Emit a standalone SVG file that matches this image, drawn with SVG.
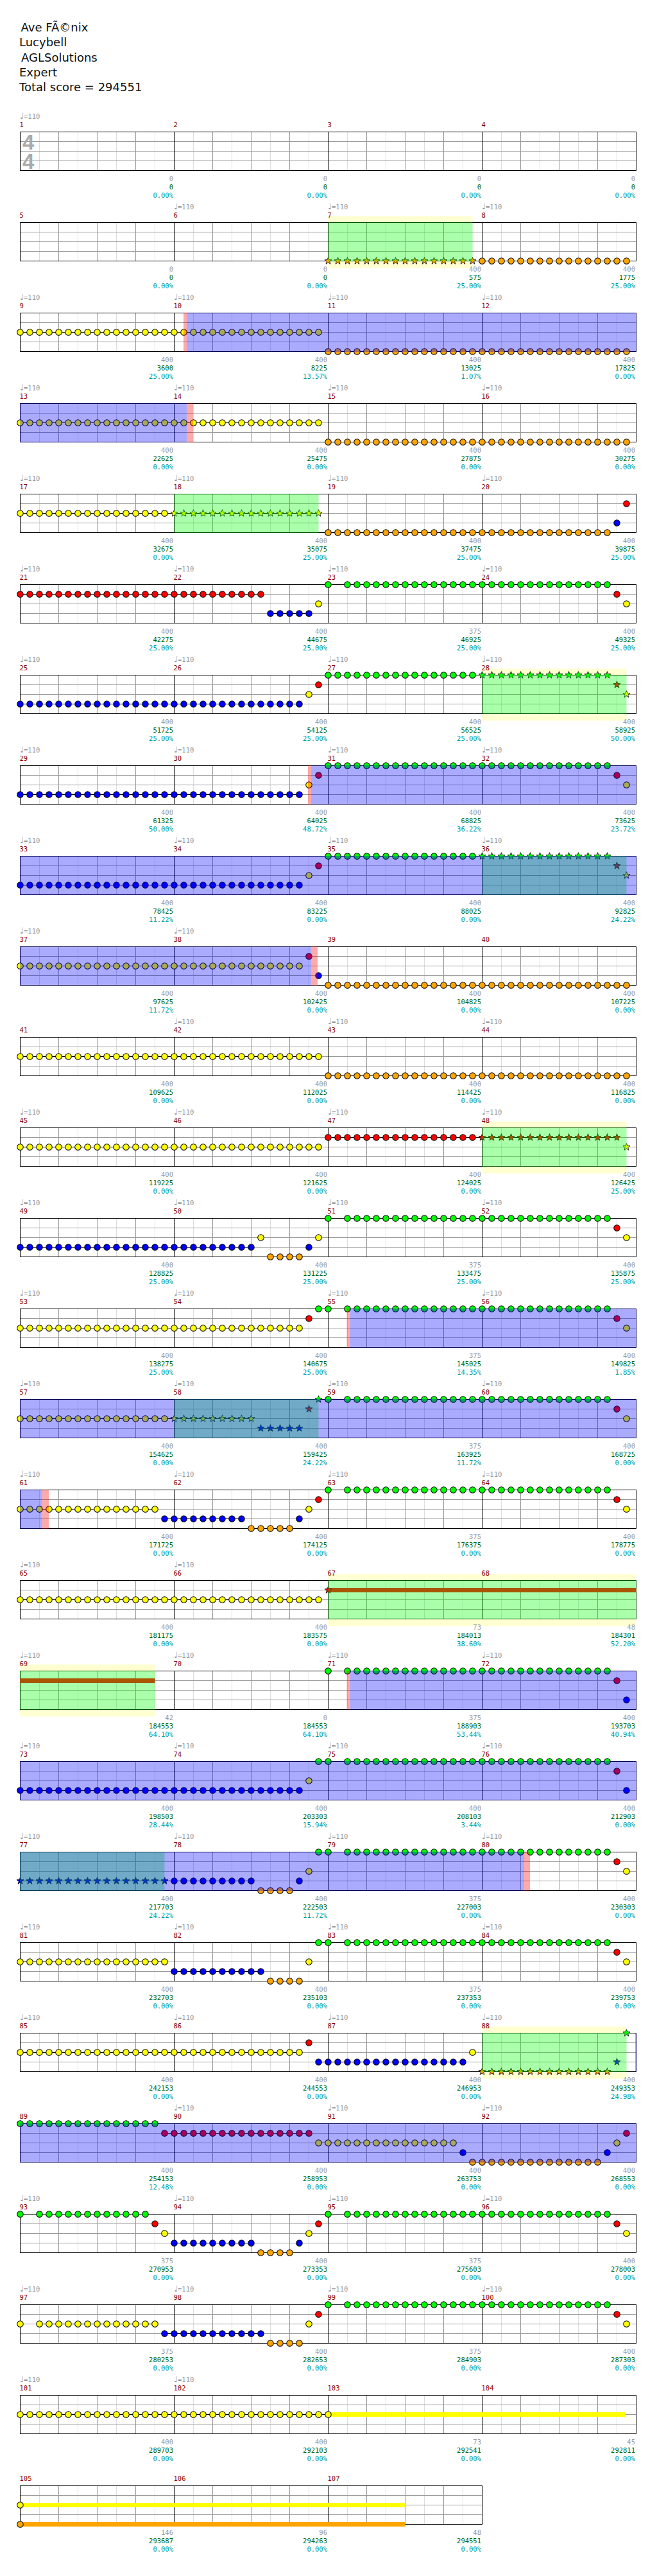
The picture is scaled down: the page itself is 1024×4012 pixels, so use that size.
<svg xmlns="http://www.w3.org/2000/svg" xmlns:xlink="http://www.w3.org/1999/xlink" width="1024" height="4012" viewBox="0 0 1024 4012">
<defs>
<style>
.lt{stroke:#ddd;fill:none}
.gr{stroke:#999;fill:none}
.bk{stroke:#000;fill:none}
.ln{stroke:#000;fill:none}
.d{fill:none;stroke-linecap:round;stroke-dasharray:0 15}
.k{stroke:#000;stroke-width:10.5}
.c{stroke-width:8.5}
.G{stroke:#00ff00}.R{stroke:#ff0000}.Y{stroke:#ffff00}.B{stroke:#0000ff}.O{stroke:#ffa500}
.s{stroke:#000;stroke-width:.8}
.sG{fill:#00ff00}.sR{fill:#ff0000}.sY{fill:#ffff00}.sB{fill:#0000ff}.sO{fill:#ffa500}
.og{fill:#00ff00;fill-opacity:.333}
.ob{fill:#0000ff;fill-opacity:.333}
.op{fill:#ff0000;fill-opacity:.333}
.yb{fill:#ffffd2}
.suR{fill:#ff0000}.suY{fill:#ffff00}.suO{fill:#ffa500}
.t{font-family:"DejaVu Sans Mono",monospace;font-size:10.5px}
.nt{font-family:"DejaVu Sans",sans-serif;font-size:13px}
.tp{fill:#999}
.mn{fill:#8b0000}
.q{fill:#999;text-anchor:end}
.sc{fill:#006400;text-anchor:end}
.pc{fill:#009999;text-anchor:end}
.h{font-family:"DejaVu Sans",sans-serif;font-size:18px;fill:#111}
.ts{font-family:"Liberation Sans",sans-serif;font-weight:bold;font-size:33px;fill:#aaa}
</style>
<path id="st" d="M0-5.8L1.41-1.94 5.52-1.79 2.28.74 3.41 4.69 0 2.4-3.41 4.69-2.28.74-5.52-1.79-1.41-1.94Z"/>
<g id="grid">
<rect x="31.5" y="205.5" width="960" height="60" fill="#fff"/>
<path class="lt" d="M61.5 205.5v60M121.5 205.5v60M181.5 205.5v60M241.5 205.5v60M301.5 205.5v60M361.5 205.5v60M421.5 205.5v60M481.5 205.5v60M541.5 205.5v60M601.5 205.5v60M661.5 205.5v60M721.5 205.5v60M781.5 205.5v60M841.5 205.5v60M901.5 205.5v60M961.5 205.5v60"/>
<path class="gr" d="M91.5 205.5v60M151.5 205.5v60M211.5 205.5v60M331.5 205.5v60M391.5 205.5v60M451.5 205.5v60M571.5 205.5v60M631.5 205.5v60M691.5 205.5v60M811.5 205.5v60M871.5 205.5v60M931.5 205.5v60M31.5 220.5H991.5M31.5 235.5H991.5M31.5 250.5H991.5"/>
<path class="bk" d="M271.5 205.5v60M511.5 205.5v60M751.5 205.5v60"/>
<rect class="bk" x="31.5" y="205.5" width="960" height="60"/>
</g>
<g id="grid3">
<rect x="31.5" y="205.5" width="720" height="60" fill="#fff"/>
<path class="lt" d="M61.5 205.5v60M121.5 205.5v60M181.5 205.5v60M241.5 205.5v60M301.5 205.5v60M361.5 205.5v60M421.5 205.5v60M481.5 205.5v60M541.5 205.5v60M601.5 205.5v60M661.5 205.5v60M721.5 205.5v60"/>
<path class="gr" d="M91.5 205.5v60M151.5 205.5v60M211.5 205.5v60M331.5 205.5v60M391.5 205.5v60M451.5 205.5v60M571.5 205.5v60M631.5 205.5v60M691.5 205.5v60M31.5 220.5H751.5M31.5 235.5H751.5M31.5 250.5H751.5"/>
<path class="bk" d="M271.5 205.5v60M511.5 205.5v60"/>
<rect class="bk" x="31.5" y="205.5" width="720" height="60"/>
</g>
</defs>
<rect width="1024" height="4012" fill="#fff"/>
<g id="title">
<text class="h" x="32.5" y="48.5">Ave FÃ©nix</text>
<text class="h" x="30" y="72">Lucybell</text>
<text class="h" x="33" y="95.5">AGLSolutions</text>
<text class="h" x="30" y="118.5">Expert</text>
<text class="h" x="30" y="141.5">Total score = 294551</text>
</g>

<g id="row1">
<use href="#grid"/>
<text class="ts" x="35" y="232.5">4</text>
<text class="ts" x="35" y="262.5">4</text>
<text class="t tp" y="185"><tspan class="nt" x="31">♩</tspan><tspan x="37">=110</tspan></text>
<text class="t mn" y="198"><tspan x="30.5">1</tspan><tspan x="270.5">2</tspan><tspan x="510.5">3</tspan><tspan x="750.5">4</tspan></text>
<text class="t q" y="282"><tspan x="270">0</tspan><tspan x="510">0</tspan><tspan x="750">0</tspan><tspan x="990">0</tspan></text>
<text class="t sc" y="295"><tspan x="270">0</tspan><tspan x="510">0</tspan><tspan x="750">0</tspan><tspan x="990">0</tspan></text>
<text class="t pc" y="308"><tspan x="270">0.00%</tspan><tspan x="510">0.00%</tspan><tspan x="750">0.00%</tspan><tspan x="990">0.00%</tspan></text>
</g>

<g id="row2" transform="translate(0,141)">
<rect class="yb" x="511.5" y="195.5" width="225" height="81"/>
<use href="#grid"/>
<path class="d k" d="M751.5 265.5h225.5"/>
<path class="d c O" d="M751.5 265.5h225.5"/>
<g class="s sO"><use href="#st" x="511.5" y="265.5"/><use href="#st" x="526.5" y="265.5"/><use href="#st" x="541.5" y="265.5"/><use href="#st" x="556.5" y="265.5"/><use href="#st" x="571.5" y="265.5"/><use href="#st" x="586.5" y="265.5"/><use href="#st" x="601.5" y="265.5"/><use href="#st" x="616.5" y="265.5"/><use href="#st" x="631.5" y="265.5"/><use href="#st" x="646.5" y="265.5"/><use href="#st" x="661.5" y="265.5"/><use href="#st" x="676.5" y="265.5"/><use href="#st" x="691.5" y="265.5"/><use href="#st" x="706.5" y="265.5"/><use href="#st" x="721.5" y="265.5"/><use href="#st" x="736.5" y="265.5"/></g>
<rect class="og" x="511.5" y="205" width="225" height="61"/>
<text class="t tp" y="185"><tspan class="nt" x="271">♩</tspan><tspan x="277">=110</tspan><tspan class="nt" x="511">♩</tspan><tspan x="517">=110</tspan><tspan class="nt" x="751">♩</tspan><tspan x="757">=110</tspan></text>
<text class="t mn" y="198"><tspan x="30.5">5</tspan><tspan x="270.5">6</tspan><tspan x="510.5">7</tspan><tspan x="750.5">8</tspan></text>
<text class="t q" y="282"><tspan x="270">0</tspan><tspan x="510">0</tspan><tspan x="750">400</tspan><tspan x="990">400</tspan></text>
<text class="t sc" y="295"><tspan x="270">0</tspan><tspan x="510">0</tspan><tspan x="750">575</tspan><tspan x="990">1775</tspan></text>
<text class="t pc" y="308"><tspan x="270">0.00%</tspan><tspan x="510">0.00%</tspan><tspan x="750">25.00%</tspan><tspan x="990">25.00%</tspan></text>
</g>

<g id="row3" transform="translate(0,282)">
<use href="#grid"/>
<path class="ln" d="M31.5 235.5h465"/>
<path class="d k" d="M31.5 235.5h465.5M511.5 265.5h465.5"/>
<path class="d c Y" d="M31.5 235.5h465.5"/>
<path class="d c O" d="M511.5 265.5h465.5"/>
<rect class="op" x="286" y="205" width="5" height="61"/>
<rect class="ob" x="291" y="205" width="701" height="61"/>
<text class="t tp" y="185"><tspan class="nt" x="31">♩</tspan><tspan x="37">=110</tspan><tspan class="nt" x="271">♩</tspan><tspan x="277">=110</tspan><tspan class="nt" x="511">♩</tspan><tspan x="517">=110</tspan><tspan class="nt" x="751">♩</tspan><tspan x="757">=110</tspan></text>
<text class="t mn" y="198"><tspan x="30.5">9</tspan><tspan x="270.5">10</tspan><tspan x="510.5">11</tspan><tspan x="750.5">12</tspan></text>
<text class="t q" y="282"><tspan x="270">400</tspan><tspan x="510">400</tspan><tspan x="750">400</tspan><tspan x="990">400</tspan></text>
<text class="t sc" y="295"><tspan x="270">3600</tspan><tspan x="510">8225</tspan><tspan x="750">13025</tspan><tspan x="990">17825</tspan></text>
<text class="t pc" y="308"><tspan x="270">25.00%</tspan><tspan x="510">13.57%</tspan><tspan x="750">1.07%</tspan><tspan x="990">0.00%</tspan></text>
</g>

<g id="row4" transform="translate(0,423)">
<use href="#grid"/>
<path class="ln" d="M31.5 235.5h465"/>
<path class="d k" d="M31.5 235.5h465.5M511.5 265.5h465.5"/>
<path class="d c Y" d="M31.5 235.5h465.5"/>
<path class="d c O" d="M511.5 265.5h465.5"/>
<rect class="ob" x="31" y="205" width="260" height="61"/>
<rect class="op" x="291" y="205" width="10" height="61"/>
<text class="t tp" y="185"><tspan class="nt" x="31">♩</tspan><tspan x="37">=110</tspan><tspan class="nt" x="271">♩</tspan><tspan x="277">=110</tspan><tspan class="nt" x="511">♩</tspan><tspan x="517">=110</tspan><tspan class="nt" x="751">♩</tspan><tspan x="757">=110</tspan></text>
<text class="t mn" y="198"><tspan x="30.5">13</tspan><tspan x="270.5">14</tspan><tspan x="510.5">15</tspan><tspan x="750.5">16</tspan></text>
<text class="t q" y="282"><tspan x="270">400</tspan><tspan x="510">400</tspan><tspan x="750">400</tspan><tspan x="990">400</tspan></text>
<text class="t sc" y="295"><tspan x="270">22625</tspan><tspan x="510">25475</tspan><tspan x="750">27875</tspan><tspan x="990">30275</tspan></text>
<text class="t pc" y="308"><tspan x="270">0.00%</tspan><tspan x="510">0.00%</tspan><tspan x="750">0.00%</tspan><tspan x="990">0.00%</tspan></text>
</g>

<g id="row5" transform="translate(0,564)">
<use href="#grid"/>
<path class="ln" d="M31.5 235.5h465"/>
<path class="d k" d="M31.5 235.5h225.5M511.5 265.5h435.5M961.5 250.5h.5M976.5 220.5h.5"/>
<path class="d c Y" d="M31.5 235.5h225.5"/>
<path class="d c O" d="M511.5 265.5h435.5"/>
<path class="d c B" d="M961.5 250.5h.5"/>
<path class="d c R" d="M976.5 220.5h.5"/>
<g class="s sY"><use href="#st" x="271.5" y="235.5"/><use href="#st" x="286.5" y="235.5"/><use href="#st" x="301.5" y="235.5"/><use href="#st" x="316.5" y="235.5"/><use href="#st" x="331.5" y="235.5"/><use href="#st" x="346.5" y="235.5"/><use href="#st" x="361.5" y="235.5"/><use href="#st" x="376.5" y="235.5"/><use href="#st" x="391.5" y="235.5"/><use href="#st" x="406.5" y="235.5"/><use href="#st" x="421.5" y="235.5"/><use href="#st" x="436.5" y="235.5"/><use href="#st" x="451.5" y="235.5"/><use href="#st" x="466.5" y="235.5"/><use href="#st" x="481.5" y="235.5"/><use href="#st" x="496.5" y="235.5"/></g>
<rect class="og" x="271.5" y="205" width="225" height="61"/>
<text class="t tp" y="185"><tspan class="nt" x="31">♩</tspan><tspan x="37">=110</tspan><tspan class="nt" x="271">♩</tspan><tspan x="277">=110</tspan><tspan class="nt" x="511">♩</tspan><tspan x="517">=110</tspan><tspan class="nt" x="751">♩</tspan><tspan x="757">=110</tspan></text>
<text class="t mn" y="198"><tspan x="30.5">17</tspan><tspan x="270.5">18</tspan><tspan x="510.5">19</tspan><tspan x="750.5">20</tspan></text>
<text class="t q" y="282"><tspan x="270">400</tspan><tspan x="510">400</tspan><tspan x="750">400</tspan><tspan x="990">400</tspan></text>
<text class="t sc" y="295"><tspan x="270">32675</tspan><tspan x="510">35075</tspan><tspan x="750">37475</tspan><tspan x="990">39875</tspan></text>
<text class="t pc" y="308"><tspan x="270">0.00%</tspan><tspan x="510">25.00%</tspan><tspan x="750">25.00%</tspan><tspan x="990">25.00%</tspan></text>
</g>

<g id="row6" transform="translate(0,705)">
<use href="#grid"/>
<path class="ln" d="M31.5 220.5h375M421.5 250.5h60"/>
<path class="d k" d="M31.5 220.5h375.5M961.5 220.5h.5M421.5 250.5h60.5M496.5 235.5h.5M976.5 235.5h.5M511.5 205.5h.5M541.5 205.5h405.5"/>
<path class="d c R" d="M31.5 220.5h375.5M961.5 220.5h.5"/>
<path class="d c B" d="M421.5 250.5h60.5"/>
<path class="d c Y" d="M496.5 235.5h.5M976.5 235.5h.5"/>
<path class="d c G" d="M511.5 205.5h.5M541.5 205.5h405.5"/>
<text class="t tp" y="185"><tspan class="nt" x="31">♩</tspan><tspan x="37">=110</tspan><tspan class="nt" x="271">♩</tspan><tspan x="277">=110</tspan><tspan class="nt" x="511">♩</tspan><tspan x="517">=110</tspan><tspan class="nt" x="751">♩</tspan><tspan x="757">=110</tspan></text>
<text class="t mn" y="198"><tspan x="30.5">21</tspan><tspan x="270.5">22</tspan><tspan x="510.5">23</tspan><tspan x="750.5">24</tspan></text>
<text class="t q" y="282"><tspan x="270">400</tspan><tspan x="510">400</tspan><tspan x="750">375</tspan><tspan x="990">400</tspan></text>
<text class="t sc" y="295"><tspan x="270">42275</tspan><tspan x="510">44675</tspan><tspan x="750">46925</tspan><tspan x="990">49325</tspan></text>
<text class="t pc" y="308"><tspan x="270">25.00%</tspan><tspan x="510">25.00%</tspan><tspan x="750">25.00%</tspan><tspan x="990">25.00%</tspan></text>
</g>

<g id="row7" transform="translate(0,846)">
<rect class="yb" x="751.5" y="195.5" width="225" height="81"/>
<use href="#grid"/>
<path class="ln" d="M31.5 250.5h435"/>
<path class="d k" d="M31.5 250.5h435.5M481.5 235.5h.5M496.5 220.5h.5M511.5 205.5h225.5"/>
<path class="d c B" d="M31.5 250.5h435.5"/>
<path class="d c Y" d="M481.5 235.5h.5"/>
<path class="d c R" d="M496.5 220.5h.5"/>
<path class="d c G" d="M511.5 205.5h225.5"/>
<g class="s sG"><use href="#st" x="751.5" y="205.5"/><use href="#st" x="766.5" y="205.5"/><use href="#st" x="781.5" y="205.5"/><use href="#st" x="796.5" y="205.5"/><use href="#st" x="811.5" y="205.5"/><use href="#st" x="826.5" y="205.5"/><use href="#st" x="841.5" y="205.5"/><use href="#st" x="856.5" y="205.5"/><use href="#st" x="871.5" y="205.5"/><use href="#st" x="886.5" y="205.5"/><use href="#st" x="901.5" y="205.5"/><use href="#st" x="916.5" y="205.5"/><use href="#st" x="931.5" y="205.5"/><use href="#st" x="946.5" y="205.5"/></g>
<use href="#st" class="s sR" x="961.5" y="220.5"/>
<use href="#st" class="s sY" x="976.5" y="235.5"/>
<rect class="og" x="751.5" y="205" width="225" height="61"/>
<text class="t tp" y="185"><tspan class="nt" x="31">♩</tspan><tspan x="37">=110</tspan><tspan class="nt" x="271">♩</tspan><tspan x="277">=110</tspan><tspan class="nt" x="511">♩</tspan><tspan x="517">=110</tspan><tspan class="nt" x="751">♩</tspan><tspan x="757">=110</tspan></text>
<text class="t mn" y="198"><tspan x="30.5">25</tspan><tspan x="270.5">26</tspan><tspan x="510.5">27</tspan><tspan x="750.5">28</tspan></text>
<text class="t q" y="282"><tspan x="270">400</tspan><tspan x="510">400</tspan><tspan x="750">400</tspan><tspan x="990">400</tspan></text>
<text class="t sc" y="295"><tspan x="270">51725</tspan><tspan x="510">54125</tspan><tspan x="750">56525</tspan><tspan x="990">58925</tspan></text>
<text class="t pc" y="308"><tspan x="270">25.00%</tspan><tspan x="510">25.00%</tspan><tspan x="750">25.00%</tspan><tspan x="990">50.00%</tspan></text>
</g>

<g id="row8" transform="translate(0,987)">
<use href="#grid"/>
<path class="ln" d="M31.5 250.5h435"/>
<path class="d k" d="M31.5 250.5h435.5M481.5 235.5h.5M976.5 235.5h.5M496.5 220.5h.5M961.5 220.5h.5M511.5 205.5h435.5"/>
<path class="d c B" d="M31.5 250.5h435.5"/>
<path class="d c Y" d="M481.5 235.5h.5M976.5 235.5h.5"/>
<path class="d c R" d="M496.5 220.5h.5M961.5 220.5h.5"/>
<path class="d c G" d="M511.5 205.5h435.5"/>
<rect class="op" x="480" y="205" width="5" height="61"/>
<rect class="ob" x="485" y="205" width="507" height="61"/>
<text class="t tp" y="185"><tspan class="nt" x="31">♩</tspan><tspan x="37">=110</tspan><tspan class="nt" x="271">♩</tspan><tspan x="277">=110</tspan><tspan class="nt" x="511">♩</tspan><tspan x="517">=110</tspan><tspan class="nt" x="751">♩</tspan><tspan x="757">=110</tspan></text>
<text class="t mn" y="198"><tspan x="30.5">29</tspan><tspan x="270.5">30</tspan><tspan x="510.5">31</tspan><tspan x="750.5">32</tspan></text>
<text class="t q" y="282"><tspan x="270">400</tspan><tspan x="510">400</tspan><tspan x="750">400</tspan><tspan x="990">400</tspan></text>
<text class="t sc" y="295"><tspan x="270">61325</tspan><tspan x="510">64025</tspan><tspan x="750">68825</tspan><tspan x="990">73625</tspan></text>
<text class="t pc" y="308"><tspan x="270">50.00%</tspan><tspan x="510">48.72%</tspan><tspan x="750">36.22%</tspan><tspan x="990">23.72%</tspan></text>
</g>

<g id="row9" transform="translate(0,1128)">
<use href="#grid"/>
<path class="ln" d="M31.5 250.5h435"/>
<path class="d k" d="M31.5 250.5h435.5M481.5 235.5h.5M496.5 220.5h.5M511.5 205.5h225.5"/>
<path class="d c B" d="M31.5 250.5h435.5"/>
<path class="d c Y" d="M481.5 235.5h.5"/>
<path class="d c R" d="M496.5 220.5h.5"/>
<path class="d c G" d="M511.5 205.5h225.5"/>
<g class="s sG"><use href="#st" x="751.5" y="205.5"/><use href="#st" x="766.5" y="205.5"/><use href="#st" x="781.5" y="205.5"/><use href="#st" x="796.5" y="205.5"/><use href="#st" x="811.5" y="205.5"/><use href="#st" x="826.5" y="205.5"/><use href="#st" x="841.5" y="205.5"/><use href="#st" x="856.5" y="205.5"/><use href="#st" x="871.5" y="205.5"/><use href="#st" x="886.5" y="205.5"/><use href="#st" x="901.5" y="205.5"/><use href="#st" x="916.5" y="205.5"/><use href="#st" x="931.5" y="205.5"/><use href="#st" x="946.5" y="205.5"/></g>
<use href="#st" class="s sR" x="961.5" y="220.5"/>
<use href="#st" class="s sY" x="976.5" y="235.5"/>
<rect class="og" x="751.5" y="205" width="225" height="61"/>
<rect class="ob" x="31" y="205" width="961" height="61"/>
<text class="t tp" y="185"><tspan class="nt" x="31">♩</tspan><tspan x="37">=110</tspan><tspan class="nt" x="271">♩</tspan><tspan x="277">=110</tspan><tspan class="nt" x="511">♩</tspan><tspan x="517">=110</tspan><tspan class="nt" x="751">♩</tspan><tspan x="757">=110</tspan></text>
<text class="t mn" y="198"><tspan x="30.5">33</tspan><tspan x="270.5">34</tspan><tspan x="510.5">35</tspan><tspan x="750.5">36</tspan></text>
<text class="t q" y="282"><tspan x="270">400</tspan><tspan x="510">400</tspan><tspan x="750">400</tspan><tspan x="990">400</tspan></text>
<text class="t sc" y="295"><tspan x="270">78425</tspan><tspan x="510">83225</tspan><tspan x="750">88025</tspan><tspan x="990">92825</tspan></text>
<text class="t pc" y="308"><tspan x="270">11.22%</tspan><tspan x="510">0.00%</tspan><tspan x="750">0.00%</tspan><tspan x="990">24.22%</tspan></text>
</g>

<g id="row10" transform="translate(0,1269)">
<use href="#grid"/>
<path class="ln" d="M31.5 235.5h435"/>
<path class="d k" d="M31.5 235.5h435.5M481.5 220.5h.5M496.5 250.5h.5M511.5 265.5h465.5"/>
<path class="d c Y" d="M31.5 235.5h435.5"/>
<path class="d c R" d="M481.5 220.5h.5"/>
<path class="d c B" d="M496.5 250.5h.5"/>
<path class="d c O" d="M511.5 265.5h465.5"/>
<rect class="ob" x="31" y="205" width="454" height="61"/>
<rect class="op" x="485" y="205" width="10" height="61"/>
<text class="t tp" y="185"><tspan class="nt" x="31">♩</tspan><tspan x="37">=110</tspan><tspan class="nt" x="271">♩</tspan><tspan x="277">=110</tspan></text>
<text class="t mn" y="198"><tspan x="30.5">37</tspan><tspan x="270.5">38</tspan><tspan x="510.5">39</tspan><tspan x="750.5">40</tspan></text>
<text class="t q" y="282"><tspan x="270">400</tspan><tspan x="510">400</tspan><tspan x="750">400</tspan><tspan x="990">400</tspan></text>
<text class="t sc" y="295"><tspan x="270">97625</tspan><tspan x="510">102425</tspan><tspan x="750">104825</tspan><tspan x="990">107225</tspan></text>
<text class="t pc" y="308"><tspan x="270">11.72%</tspan><tspan x="510">0.00%</tspan><tspan x="750">0.00%</tspan><tspan x="990">0.00%</tspan></text>
</g>

<g id="row11" transform="translate(0,1410)">
<use href="#grid"/>
<path class="ln" d="M31.5 235.5h465"/>
<path class="d k" d="M31.5 235.5h465.5M511.5 265.5h465.5"/>
<path class="d c Y" d="M31.5 235.5h465.5"/>
<path class="d c O" d="M511.5 265.5h465.5"/>
<text class="t tp" y="185"><tspan class="nt" x="271">♩</tspan><tspan x="277">=110</tspan><tspan class="nt" x="511">♩</tspan><tspan x="517">=110</tspan><tspan class="nt" x="751">♩</tspan><tspan x="757">=110</tspan></text>
<text class="t mn" y="198"><tspan x="30.5">41</tspan><tspan x="270.5">42</tspan><tspan x="510.5">43</tspan><tspan x="750.5">44</tspan></text>
<text class="t q" y="282"><tspan x="270">400</tspan><tspan x="510">400</tspan><tspan x="750">400</tspan><tspan x="990">400</tspan></text>
<text class="t sc" y="295"><tspan x="270">109625</tspan><tspan x="510">112025</tspan><tspan x="750">114425</tspan><tspan x="990">116825</tspan></text>
<text class="t pc" y="308"><tspan x="270">0.00%</tspan><tspan x="510">0.00%</tspan><tspan x="750">0.00%</tspan><tspan x="990">0.00%</tspan></text>
</g>

<g id="row12" transform="translate(0,1551)">
<rect class="yb" x="751.5" y="195.5" width="225" height="81"/>
<use href="#grid"/>
<path class="ln" d="M31.5 235.5h465M511.5 220.5h450"/>
<path class="d k" d="M31.5 235.5h465.5M511.5 220.5h225.5"/>
<path class="d c Y" d="M31.5 235.5h465.5"/>
<path class="d c R" d="M511.5 220.5h225.5"/>
<g class="s sR"><use href="#st" x="751.5" y="220.5"/><use href="#st" x="766.5" y="220.5"/><use href="#st" x="781.5" y="220.5"/><use href="#st" x="796.5" y="220.5"/><use href="#st" x="811.5" y="220.5"/><use href="#st" x="826.5" y="220.5"/><use href="#st" x="841.5" y="220.5"/><use href="#st" x="856.5" y="220.5"/><use href="#st" x="871.5" y="220.5"/><use href="#st" x="886.5" y="220.5"/><use href="#st" x="901.5" y="220.5"/><use href="#st" x="916.5" y="220.5"/><use href="#st" x="931.5" y="220.5"/><use href="#st" x="946.5" y="220.5"/><use href="#st" x="961.5" y="220.5"/></g>
<use href="#st" class="s sY" x="976.5" y="235.5"/>
<rect class="og" x="751.5" y="205" width="225" height="61"/>
<text class="t tp" y="185"><tspan class="nt" x="31">♩</tspan><tspan x="37">=110</tspan><tspan class="nt" x="271">♩</tspan><tspan x="277">=110</tspan><tspan class="nt" x="511">♩</tspan><tspan x="517">=110</tspan><tspan class="nt" x="751">♩</tspan><tspan x="757">=110</tspan></text>
<text class="t mn" y="198"><tspan x="30.5">45</tspan><tspan x="270.5">46</tspan><tspan x="510.5">47</tspan><tspan x="750.5">48</tspan></text>
<text class="t q" y="282"><tspan x="270">400</tspan><tspan x="510">400</tspan><tspan x="750">400</tspan><tspan x="990">400</tspan></text>
<text class="t sc" y="295"><tspan x="270">119225</tspan><tspan x="510">121625</tspan><tspan x="750">124025</tspan><tspan x="990">126425</tspan></text>
<text class="t pc" y="308"><tspan x="270">0.00%</tspan><tspan x="510">0.00%</tspan><tspan x="750">0.00%</tspan><tspan x="990">25.00%</tspan></text>
</g>

<g id="row13" transform="translate(0,1692)">
<use href="#grid"/>
<path class="ln" d="M31.5 250.5h360"/>
<path class="d k" d="M31.5 250.5h360.5M481.5 250.5h.5M406.5 235.5h.5M496.5 235.5h.5M976.5 235.5h.5M421.5 265.5h45.5M511.5 205.5h.5M541.5 205.5h405.5M961.5 220.5h.5"/>
<path class="d c B" d="M31.5 250.5h360.5M481.5 250.5h.5"/>
<path class="d c Y" d="M406.5 235.5h.5M496.5 235.5h.5M976.5 235.5h.5"/>
<path class="d c O" d="M421.5 265.5h45.5"/>
<path class="d c G" d="M511.5 205.5h.5M541.5 205.5h405.5"/>
<path class="d c R" d="M961.5 220.5h.5"/>
<text class="t tp" y="185"><tspan class="nt" x="31">♩</tspan><tspan x="37">=110</tspan><tspan class="nt" x="271">♩</tspan><tspan x="277">=110</tspan><tspan class="nt" x="511">♩</tspan><tspan x="517">=110</tspan><tspan class="nt" x="751">♩</tspan><tspan x="757">=110</tspan></text>
<text class="t mn" y="198"><tspan x="30.5">49</tspan><tspan x="270.5">50</tspan><tspan x="510.5">51</tspan><tspan x="750.5">52</tspan></text>
<text class="t q" y="282"><tspan x="270">400</tspan><tspan x="510">400</tspan><tspan x="750">375</tspan><tspan x="990">400</tspan></text>
<text class="t sc" y="295"><tspan x="270">128825</tspan><tspan x="510">131225</tspan><tspan x="750">133475</tspan><tspan x="990">135875</tspan></text>
<text class="t pc" y="308"><tspan x="270">25.00%</tspan><tspan x="510">25.00%</tspan><tspan x="750">25.00%</tspan><tspan x="990">25.00%</tspan></text>
</g>

<g id="row14" transform="translate(0,1833)">
<use href="#grid"/>
<path class="ln" d="M31.5 235.5h435"/>
<path class="d k" d="M31.5 235.5h435.5M976.5 235.5h.5M481.5 220.5h.5M961.5 220.5h.5M496.5 205.5h15.5M541.5 205.5h405.5"/>
<path class="d c Y" d="M31.5 235.5h435.5M976.5 235.5h.5"/>
<path class="d c R" d="M481.5 220.5h.5M961.5 220.5h.5"/>
<path class="d c G" d="M496.5 205.5h15.5M541.5 205.5h405.5"/>
<rect class="op" x="540.5" y="205" width="5" height="61"/>
<rect class="ob" x="545.5" y="205" width="446.5" height="61"/>
<text class="t tp" y="185"><tspan class="nt" x="31">♩</tspan><tspan x="37">=110</tspan><tspan class="nt" x="271">♩</tspan><tspan x="277">=110</tspan><tspan class="nt" x="511">♩</tspan><tspan x="517">=110</tspan><tspan class="nt" x="751">♩</tspan><tspan x="757">=110</tspan></text>
<text class="t mn" y="198"><tspan x="30.5">53</tspan><tspan x="270.5">54</tspan><tspan x="510.5">55</tspan><tspan x="750.5">56</tspan></text>
<text class="t q" y="282"><tspan x="270">400</tspan><tspan x="510">400</tspan><tspan x="750">375</tspan><tspan x="990">400</tspan></text>
<text class="t sc" y="295"><tspan x="270">138275</tspan><tspan x="510">140675</tspan><tspan x="750">145025</tspan><tspan x="990">149825</tspan></text>
<text class="t pc" y="308"><tspan x="270">25.00%</tspan><tspan x="510">25.00%</tspan><tspan x="750">14.35%</tspan><tspan x="990">1.85%</tspan></text>
</g>

<g id="row15" transform="translate(0,1974)">
<use href="#grid"/>
<path class="ln" d="M31.5 235.5h360M406.5 250.5h60"/>
<path class="d k" d="M31.5 235.5h225.5M976.5 235.5h.5M511.5 205.5h.5M541.5 205.5h405.5M961.5 220.5h.5"/>
<path class="d c Y" d="M31.5 235.5h225.5M976.5 235.5h.5"/>
<path class="d c G" d="M511.5 205.5h.5M541.5 205.5h405.5"/>
<path class="d c R" d="M961.5 220.5h.5"/>
<g class="s sY"><use href="#st" x="271.5" y="235.5"/><use href="#st" x="286.5" y="235.5"/><use href="#st" x="301.5" y="235.5"/><use href="#st" x="316.5" y="235.5"/><use href="#st" x="331.5" y="235.5"/><use href="#st" x="346.5" y="235.5"/><use href="#st" x="361.5" y="235.5"/><use href="#st" x="376.5" y="235.5"/><use href="#st" x="391.5" y="235.5"/></g>
<g class="s sB"><use href="#st" x="406.5" y="250.5"/><use href="#st" x="421.5" y="250.5"/><use href="#st" x="436.5" y="250.5"/><use href="#st" x="451.5" y="250.5"/><use href="#st" x="466.5" y="250.5"/></g>
<use href="#st" class="s sR" x="481.5" y="220.5"/>
<use href="#st" class="s sG" x="496.5" y="205.5"/>
<rect class="og" x="271.5" y="205" width="225" height="61"/>
<rect class="ob" x="31" y="205" width="961" height="61"/>
<text class="t tp" y="185"><tspan class="nt" x="31">♩</tspan><tspan x="37">=110</tspan><tspan class="nt" x="271">♩</tspan><tspan x="277">=110</tspan><tspan class="nt" x="511">♩</tspan><tspan x="517">=110</tspan><tspan class="nt" x="751">♩</tspan><tspan x="757">=110</tspan></text>
<text class="t mn" y="198"><tspan x="30.5">57</tspan><tspan x="270.5">58</tspan><tspan x="510.5">59</tspan><tspan x="750.5">60</tspan></text>
<text class="t q" y="282"><tspan x="270">400</tspan><tspan x="510">400</tspan><tspan x="750">375</tspan><tspan x="990">400</tspan></text>
<text class="t sc" y="295"><tspan x="270">154625</tspan><tspan x="510">159425</tspan><tspan x="750">163925</tspan><tspan x="990">168725</tspan></text>
<text class="t pc" y="308"><tspan x="270">0.00%</tspan><tspan x="510">24.22%</tspan><tspan x="750">11.72%</tspan><tspan x="990">0.00%</tspan></text>
</g>

<g id="row16" transform="translate(0,2115)">
<use href="#grid"/>
<path class="ln" d="M31.5 235.5h210M256.5 250.5h120"/>
<path class="d k" d="M31.5 235.5h210.5M481.5 235.5h.5M976.5 235.5h.5M256.5 250.5h120.5M466.5 250.5h.5M391.5 265.5h60.5M496.5 220.5h.5M961.5 220.5h.5M511.5 205.5h.5M541.5 205.5h405.5"/>
<path class="d c Y" d="M31.5 235.5h210.5M481.5 235.5h.5M976.5 235.5h.5"/>
<path class="d c B" d="M256.5 250.5h120.5M466.5 250.5h.5"/>
<path class="d c O" d="M391.5 265.5h60.5"/>
<path class="d c R" d="M496.5 220.5h.5M961.5 220.5h.5"/>
<path class="d c G" d="M511.5 205.5h.5M541.5 205.5h405.5"/>
<rect class="ob" x="31" y="205" width="34.5" height="61"/>
<rect class="op" x="65.5" y="205" width="10.5" height="61"/>
<text class="t tp" y="185"><tspan class="nt" x="31">♩</tspan><tspan x="37">=110</tspan><tspan class="nt" x="271">♩</tspan><tspan x="277">=110</tspan><tspan class="nt" x="511">♩</tspan><tspan x="517">=110</tspan><tspan class="nt" x="751">♩</tspan><tspan x="757">=110</tspan></text>
<text class="t mn" y="198"><tspan x="30.5">61</tspan><tspan x="270.5">62</tspan><tspan x="510.5">63</tspan><tspan x="750.5">64</tspan></text>
<text class="t q" y="282"><tspan x="270">400</tspan><tspan x="510">400</tspan><tspan x="750">375</tspan><tspan x="990">400</tspan></text>
<text class="t sc" y="295"><tspan x="270">171725</tspan><tspan x="510">174125</tspan><tspan x="750">176375</tspan><tspan x="990">178775</tspan></text>
<text class="t pc" y="308"><tspan x="270">0.00%</tspan><tspan x="510">0.00%</tspan><tspan x="750">0.00%</tspan><tspan x="990">0.00%</tspan></text>
</g>

<g id="row17" transform="translate(0,2256)">
<rect class="yb" x="511.5" y="195.5" width="480" height="81"/>
<use href="#grid"/>
<path class="ln" d="M31.5 235.5h465"/>
<rect class="suR" x="511.5" y="217" width="480" height="7"/>
<path class="d k" d="M31.5 235.5h465.5"/>
<path class="d c Y" d="M31.5 235.5h465.5"/>
<use href="#st" class="s sR" x="511.5" y="220.5"/>
<rect class="og" x="511.5" y="205" width="480.5" height="61"/>
<text class="t tp" y="185"><tspan class="nt" x="31">♩</tspan><tspan x="37">=110</tspan><tspan class="nt" x="271">♩</tspan><tspan x="277">=110</tspan></text>
<text class="t mn" y="198"><tspan x="30.5">65</tspan><tspan x="270.5">66</tspan><tspan x="510.5">67</tspan><tspan x="750.5">68</tspan></text>
<text class="t q" y="282"><tspan x="270">400</tspan><tspan x="510">400</tspan><tspan x="750">73</tspan><tspan x="990">48</tspan></text>
<text class="t sc" y="295"><tspan x="270">181175</tspan><tspan x="510">183575</tspan><tspan x="750">184013</tspan><tspan x="990">184301</tspan></text>
<text class="t pc" y="308"><tspan x="270">0.00%</tspan><tspan x="510">0.00%</tspan><tspan x="750">38.60%</tspan><tspan x="990">52.20%</tspan></text>
</g>

<g id="row18" transform="translate(0,2397)">
<rect class="yb" x="31.5" y="195.5" width="210" height="81"/>
<use href="#grid"/>
<rect class="suR" x="31" y="217" width="210.5" height="7"/>
<path class="d k" d="M511.5 205.5h.5M541.5 205.5h405.5M961.5 220.5h.5M976.5 250.5h.5"/>
<path class="d c G" d="M511.5 205.5h.5M541.5 205.5h405.5"/>
<path class="d c R" d="M961.5 220.5h.5"/>
<path class="d c B" d="M976.5 250.5h.5"/>
<rect class="og" x="31" y="205" width="210.5" height="61"/>
<rect class="op" x="540.5" y="205" width="5" height="61"/>
<rect class="ob" x="545.5" y="205" width="446.5" height="61"/>
<text class="t tp" y="185"><tspan class="nt" x="31">♩</tspan><tspan x="37">=110</tspan><tspan class="nt" x="271">♩</tspan><tspan x="277">=110</tspan><tspan class="nt" x="511">♩</tspan><tspan x="517">=110</tspan><tspan class="nt" x="751">♩</tspan><tspan x="757">=110</tspan></text>
<text class="t mn" y="198"><tspan x="30.5">69</tspan><tspan x="270.5">70</tspan><tspan x="510.5">71</tspan><tspan x="750.5">72</tspan></text>
<text class="t q" y="282"><tspan x="270">42</tspan><tspan x="510">0</tspan><tspan x="750">375</tspan><tspan x="990">400</tspan></text>
<text class="t sc" y="295"><tspan x="270">184553</tspan><tspan x="510">184553</tspan><tspan x="750">188903</tspan><tspan x="990">193703</tspan></text>
<text class="t pc" y="308"><tspan x="270">64.10%</tspan><tspan x="510">64.10%</tspan><tspan x="750">53.44%</tspan><tspan x="990">40.94%</tspan></text>
</g>

<g id="row19" transform="translate(0,2538)">
<use href="#grid"/>
<path class="ln" d="M31.5 250.5h435"/>
<path class="d k" d="M31.5 250.5h435.5M976.5 250.5h.5M481.5 235.5h.5M496.5 205.5h15.5M541.5 205.5h405.5M961.5 220.5h.5"/>
<path class="d c B" d="M31.5 250.5h435.5M976.5 250.5h.5"/>
<path class="d c Y" d="M481.5 235.5h.5"/>
<path class="d c G" d="M496.5 205.5h15.5M541.5 205.5h405.5"/>
<path class="d c R" d="M961.5 220.5h.5"/>
<rect class="ob" x="31" y="205" width="961" height="61"/>
<text class="t tp" y="185"><tspan class="nt" x="31">♩</tspan><tspan x="37">=110</tspan><tspan class="nt" x="271">♩</tspan><tspan x="277">=110</tspan><tspan class="nt" x="511">♩</tspan><tspan x="517">=110</tspan><tspan class="nt" x="751">♩</tspan><tspan x="757">=110</tspan></text>
<text class="t mn" y="198"><tspan x="30.5">73</tspan><tspan x="270.5">74</tspan><tspan x="510.5">75</tspan><tspan x="750.5">76</tspan></text>
<text class="t q" y="282"><tspan x="270">400</tspan><tspan x="510">400</tspan><tspan x="750">400</tspan><tspan x="990">400</tspan></text>
<text class="t sc" y="295"><tspan x="270">198503</tspan><tspan x="510">203303</tspan><tspan x="750">208103</tspan><tspan x="990">212903</tspan></text>
<text class="t pc" y="308"><tspan x="270">28.44%</tspan><tspan x="510">15.94%</tspan><tspan x="750">3.44%</tspan><tspan x="990">0.00%</tspan></text>
</g>

<g id="row20" transform="translate(0,2679)">
<use href="#grid"/>
<path class="ln" d="M31.5 250.5h360"/>
<path class="d k" d="M271.5 250.5h120.5M466.5 250.5h.5M406.5 265.5h45.5M481.5 235.5h.5M976.5 235.5h.5M496.5 205.5h15.5M541.5 205.5h405.5M961.5 220.5h.5"/>
<path class="d c B" d="M271.5 250.5h120.5M466.5 250.5h.5"/>
<path class="d c O" d="M406.5 265.5h45.5"/>
<path class="d c Y" d="M481.5 235.5h.5M976.5 235.5h.5"/>
<path class="d c G" d="M496.5 205.5h15.5M541.5 205.5h405.5"/>
<path class="d c R" d="M961.5 220.5h.5"/>
<g class="s sB"><use href="#st" x="31.5" y="250.5"/><use href="#st" x="46.5" y="250.5"/><use href="#st" x="61.5" y="250.5"/><use href="#st" x="76.5" y="250.5"/><use href="#st" x="91.5" y="250.5"/><use href="#st" x="106.5" y="250.5"/><use href="#st" x="121.5" y="250.5"/><use href="#st" x="136.5" y="250.5"/><use href="#st" x="151.5" y="250.5"/><use href="#st" x="166.5" y="250.5"/><use href="#st" x="181.5" y="250.5"/><use href="#st" x="196.5" y="250.5"/><use href="#st" x="211.5" y="250.5"/><use href="#st" x="226.5" y="250.5"/><use href="#st" x="241.5" y="250.5"/><use href="#st" x="256.5" y="250.5"/></g>
<rect class="og" x="31" y="205" width="225.5" height="61"/>
<rect class="ob" x="31" y="205" width="786" height="61"/>
<rect class="op" x="817" y="205" width="9" height="61"/>
<text class="t tp" y="185"><tspan class="nt" x="31">♩</tspan><tspan x="37">=110</tspan><tspan class="nt" x="271">♩</tspan><tspan x="277">=110</tspan><tspan class="nt" x="511">♩</tspan><tspan x="517">=110</tspan><tspan class="nt" x="751">♩</tspan><tspan x="757">=110</tspan></text>
<text class="t mn" y="198"><tspan x="30.5">77</tspan><tspan x="270.5">78</tspan><tspan x="510.5">79</tspan><tspan x="750.5">80</tspan></text>
<text class="t q" y="282"><tspan x="270">400</tspan><tspan x="510">400</tspan><tspan x="750">375</tspan><tspan x="990">400</tspan></text>
<text class="t sc" y="295"><tspan x="270">217703</tspan><tspan x="510">222503</tspan><tspan x="750">227003</tspan><tspan x="990">230303</tspan></text>
<text class="t pc" y="308"><tspan x="270">24.22%</tspan><tspan x="510">11.72%</tspan><tspan x="750">0.00%</tspan><tspan x="990">0.00%</tspan></text>
</g>

<g id="row21" transform="translate(0,2820)">
<use href="#grid"/>
<path class="ln" d="M31.5 235.5h225M271.5 250.5h135"/>
<path class="d k" d="M31.5 235.5h225.5M481.5 235.5h.5M976.5 235.5h.5M271.5 250.5h135.5M421.5 265.5h45.5M496.5 205.5h15.5M541.5 205.5h405.5M961.5 220.5h.5"/>
<path class="d c Y" d="M31.5 235.5h225.5M481.5 235.5h.5M976.5 235.5h.5"/>
<path class="d c B" d="M271.5 250.5h135.5"/>
<path class="d c O" d="M421.5 265.5h45.5"/>
<path class="d c G" d="M496.5 205.5h15.5M541.5 205.5h405.5"/>
<path class="d c R" d="M961.5 220.5h.5"/>
<text class="t tp" y="185"><tspan class="nt" x="31">♩</tspan><tspan x="37">=110</tspan><tspan class="nt" x="271">♩</tspan><tspan x="277">=110</tspan><tspan class="nt" x="511">♩</tspan><tspan x="517">=110</tspan><tspan class="nt" x="751">♩</tspan><tspan x="757">=110</tspan></text>
<text class="t mn" y="198"><tspan x="30.5">81</tspan><tspan x="270.5">82</tspan><tspan x="510.5">83</tspan><tspan x="750.5">84</tspan></text>
<text class="t q" y="282"><tspan x="270">400</tspan><tspan x="510">400</tspan><tspan x="750">375</tspan><tspan x="990">400</tspan></text>
<text class="t sc" y="295"><tspan x="270">232703</tspan><tspan x="510">235103</tspan><tspan x="750">237353</tspan><tspan x="990">239753</tspan></text>
<text class="t pc" y="308"><tspan x="270">0.00%</tspan><tspan x="510">0.00%</tspan><tspan x="750">0.00%</tspan><tspan x="990">0.00%</tspan></text>
</g>

<g id="row22" transform="translate(0,2961)">
<rect class="yb" x="751.5" y="195.5" width="225" height="81"/>
<use href="#grid"/>
<path class="ln" d="M31.5 235.5h435M496.5 250.5h225"/>
<path class="d k" d="M31.5 235.5h435.5M736.5 235.5h.5M481.5 220.5h.5M496.5 250.5h225.5"/>
<path class="d c Y" d="M31.5 235.5h435.5M736.5 235.5h.5"/>
<path class="d c R" d="M481.5 220.5h.5"/>
<path class="d c B" d="M496.5 250.5h225.5"/>
<g class="s sO"><use href="#st" x="751.5" y="265.5"/><use href="#st" x="766.5" y="265.5"/><use href="#st" x="781.5" y="265.5"/><use href="#st" x="796.5" y="265.5"/><use href="#st" x="811.5" y="265.5"/><use href="#st" x="826.5" y="265.5"/><use href="#st" x="841.5" y="265.5"/><use href="#st" x="856.5" y="265.5"/><use href="#st" x="871.5" y="265.5"/><use href="#st" x="886.5" y="265.5"/><use href="#st" x="901.5" y="265.5"/><use href="#st" x="916.5" y="265.5"/><use href="#st" x="931.5" y="265.5"/><use href="#st" x="946.5" y="265.5"/></g>
<use href="#st" class="s sB" x="961.5" y="250.5"/>
<use href="#st" class="s sG" x="976.5" y="205.5"/>
<rect class="og" x="751.5" y="205" width="225" height="61"/>
<rect class="ob" x="990" y="205" width="2" height="61"/>
<text class="t tp" y="185"><tspan class="nt" x="31">♩</tspan><tspan x="37">=110</tspan><tspan class="nt" x="271">♩</tspan><tspan x="277">=110</tspan><tspan class="nt" x="511">♩</tspan><tspan x="517">=110</tspan><tspan class="nt" x="751">♩</tspan><tspan x="757">=110</tspan></text>
<text class="t mn" y="198"><tspan x="30.5">85</tspan><tspan x="270.5">86</tspan><tspan x="510.5">87</tspan><tspan x="750.5">88</tspan></text>
<text class="t q" y="282"><tspan x="270">400</tspan><tspan x="510">400</tspan><tspan x="750">400</tspan><tspan x="990">400</tspan></text>
<text class="t sc" y="295"><tspan x="270">242153</tspan><tspan x="510">244553</tspan><tspan x="750">246953</tspan><tspan x="990">249353</tspan></text>
<text class="t pc" y="308"><tspan x="270">0.00%</tspan><tspan x="510">0.00%</tspan><tspan x="750">0.00%</tspan><tspan x="990">24.98%</tspan></text>
</g>

<g id="row23" transform="translate(0,3102)">
<use href="#grid"/>
<path class="ln" d="M256.5 220.5h225M496.5 235.5h210"/>
<path class="d k" d="M31.5 205.5h210.5M256.5 220.5h225.5M976.5 220.5h.5M496.5 235.5h210.5M961.5 235.5h.5M721.5 250.5h.5M946.5 250.5h.5M736.5 265.5h195.5"/>
<path class="d c G" d="M31.5 205.5h210.5"/>
<path class="d c R" d="M256.5 220.5h225.5M976.5 220.5h.5"/>
<path class="d c Y" d="M496.5 235.5h210.5M961.5 235.5h.5"/>
<path class="d c B" d="M721.5 250.5h.5M946.5 250.5h.5"/>
<path class="d c O" d="M736.5 265.5h195.5"/>
<rect class="ob" x="31" y="205" width="961" height="61"/>
<text class="t tp" y="185"><tspan class="nt" x="271">♩</tspan><tspan x="277">=110</tspan><tspan class="nt" x="511">♩</tspan><tspan x="517">=110</tspan><tspan class="nt" x="751">♩</tspan><tspan x="757">=110</tspan></text>
<text class="t mn" y="198"><tspan x="30.5">89</tspan><tspan x="270.5">90</tspan><tspan x="510.5">91</tspan><tspan x="750.5">92</tspan></text>
<text class="t q" y="282"><tspan x="270">400</tspan><tspan x="510">400</tspan><tspan x="750">400</tspan><tspan x="990">400</tspan></text>
<text class="t sc" y="295"><tspan x="270">254153</tspan><tspan x="510">258953</tspan><tspan x="750">263753</tspan><tspan x="990">268553</tspan></text>
<text class="t pc" y="308"><tspan x="270">12.48%</tspan><tspan x="510">0.00%</tspan><tspan x="750">0.00%</tspan><tspan x="990">0.00%</tspan></text>
</g>

<g id="row24" transform="translate(0,3243)">
<use href="#grid"/>
<path class="ln" d="M271.5 250.5h120"/>
<path class="d k" d="M31.5 205.5h.5M61.5 205.5h165.5M511.5 205.5h.5M541.5 205.5h405.5M241.5 220.5h.5M496.5 220.5h.5M961.5 220.5h.5M256.5 235.5h.5M481.5 235.5h.5M976.5 235.5h.5M271.5 250.5h120.5M466.5 250.5h.5M406.5 265.5h45.5"/>
<path class="d c G" d="M31.5 205.5h.5M61.5 205.5h165.5M511.5 205.5h.5M541.5 205.5h405.5"/>
<path class="d c R" d="M241.5 220.5h.5M496.5 220.5h.5M961.5 220.5h.5"/>
<path class="d c Y" d="M256.5 235.5h.5M481.5 235.5h.5M976.5 235.5h.5"/>
<path class="d c B" d="M271.5 250.5h120.5M466.5 250.5h.5"/>
<path class="d c O" d="M406.5 265.5h45.5"/>
<text class="t tp" y="185"><tspan class="nt" x="31">♩</tspan><tspan x="37">=110</tspan><tspan class="nt" x="271">♩</tspan><tspan x="277">=110</tspan><tspan class="nt" x="511">♩</tspan><tspan x="517">=110</tspan><tspan class="nt" x="751">♩</tspan><tspan x="757">=110</tspan></text>
<text class="t mn" y="198"><tspan x="30.5">93</tspan><tspan x="270.5">94</tspan><tspan x="510.5">95</tspan><tspan x="750.5">96</tspan></text>
<text class="t q" y="282"><tspan x="270">375</tspan><tspan x="510">400</tspan><tspan x="750">375</tspan><tspan x="990">400</tspan></text>
<text class="t sc" y="295"><tspan x="270">270953</tspan><tspan x="510">273353</tspan><tspan x="750">275603</tspan><tspan x="990">278003</tspan></text>
<text class="t pc" y="308"><tspan x="270">0.00%</tspan><tspan x="510">0.00%</tspan><tspan x="750">0.00%</tspan><tspan x="990">0.00%</tspan></text>
</g>

<g id="row25" transform="translate(0,3384)">
<use href="#grid"/>
<path class="ln" d="M61.5 235.5h180M256.5 250.5h150"/>
<path class="d k" d="M31.5 235.5h.5M61.5 235.5h180.5M481.5 235.5h.5M976.5 235.5h.5M256.5 250.5h150.5M421.5 265.5h45.5M496.5 220.5h.5M961.5 220.5h.5M511.5 205.5h.5M541.5 205.5h405.5"/>
<path class="d c Y" d="M31.5 235.5h.5M61.5 235.5h180.5M481.5 235.5h.5M976.5 235.5h.5"/>
<path class="d c B" d="M256.5 250.5h150.5"/>
<path class="d c O" d="M421.5 265.5h45.5"/>
<path class="d c R" d="M496.5 220.5h.5M961.5 220.5h.5"/>
<path class="d c G" d="M511.5 205.5h.5M541.5 205.5h405.5"/>
<text class="t tp" y="185"><tspan class="nt" x="31">♩</tspan><tspan x="37">=110</tspan><tspan class="nt" x="271">♩</tspan><tspan x="277">=110</tspan><tspan class="nt" x="511">♩</tspan><tspan x="517">=110</tspan><tspan class="nt" x="751">♩</tspan><tspan x="757">=110</tspan></text>
<text class="t mn" y="198"><tspan x="30.5">97</tspan><tspan x="270.5">98</tspan><tspan x="510.5">99</tspan><tspan x="750.5">100</tspan></text>
<text class="t q" y="282"><tspan x="270">375</tspan><tspan x="510">400</tspan><tspan x="750">375</tspan><tspan x="990">400</tspan></text>
<text class="t sc" y="295"><tspan x="270">280253</tspan><tspan x="510">282653</tspan><tspan x="750">284903</tspan><tspan x="990">287303</tspan></text>
<text class="t pc" y="308"><tspan x="270">0.00%</tspan><tspan x="510">0.00%</tspan><tspan x="750">0.00%</tspan><tspan x="990">0.00%</tspan></text>
</g>

<g id="row26" transform="translate(0,3525)">
<use href="#grid"/>
<path class="ln" d="M31.5 235.5h480"/>
<rect class="suY" x="511.5" y="232" width="463.5" height="7"/>
<path class="d k" d="M31.5 235.5h480.5"/>
<path class="d c Y" d="M31.5 235.5h480.5"/>
<text class="t tp" y="185"><tspan class="nt" x="31">♩</tspan><tspan x="37">=110</tspan><tspan class="nt" x="271">♩</tspan><tspan x="277">=110</tspan></text>
<text class="t mn" y="198"><tspan x="30.5">101</tspan><tspan x="270.5">102</tspan><tspan x="510.5">103</tspan><tspan x="750.5">104</tspan></text>
<text class="t q" y="282"><tspan x="270">400</tspan><tspan x="510">400</tspan><tspan x="750">73</tspan><tspan x="990">45</tspan></text>
<text class="t sc" y="295"><tspan x="270">289703</tspan><tspan x="510">292103</tspan><tspan x="750">292541</tspan><tspan x="990">292811</tspan></text>
<text class="t pc" y="308"><tspan x="270">0.00%</tspan><tspan x="510">0.00%</tspan><tspan x="750">0.00%</tspan><tspan x="990">0.00%</tspan></text>
</g>

<g id="row27" transform="translate(0,3666)">
<use href="#grid3"/>
<rect class="suY" x="31.5" y="232" width="600" height="7"/>
<rect class="suO" x="31.5" y="262" width="600" height="7"/>
<path class="d k" d="M31.5 235.5h.5M31.5 265.5h.5"/>
<path class="d c Y" d="M31.5 235.5h.5"/>
<path class="d c O" d="M31.5 265.5h.5"/>
<text class="t mn" y="198"><tspan x="30.5">105</tspan><tspan x="270.5">106</tspan><tspan x="510.5">107</tspan></text>
<text class="t q" y="282"><tspan x="270">146</tspan><tspan x="510">96</tspan><tspan x="750">48</tspan></text>
<text class="t sc" y="295"><tspan x="270">293687</tspan><tspan x="510">294263</tspan><tspan x="750">294551</tspan></text>
<text class="t pc" y="308"><tspan x="270">0.00%</tspan><tspan x="510">0.00%</tspan><tspan x="750">0.00%</tspan></text>
</g>
</svg>
